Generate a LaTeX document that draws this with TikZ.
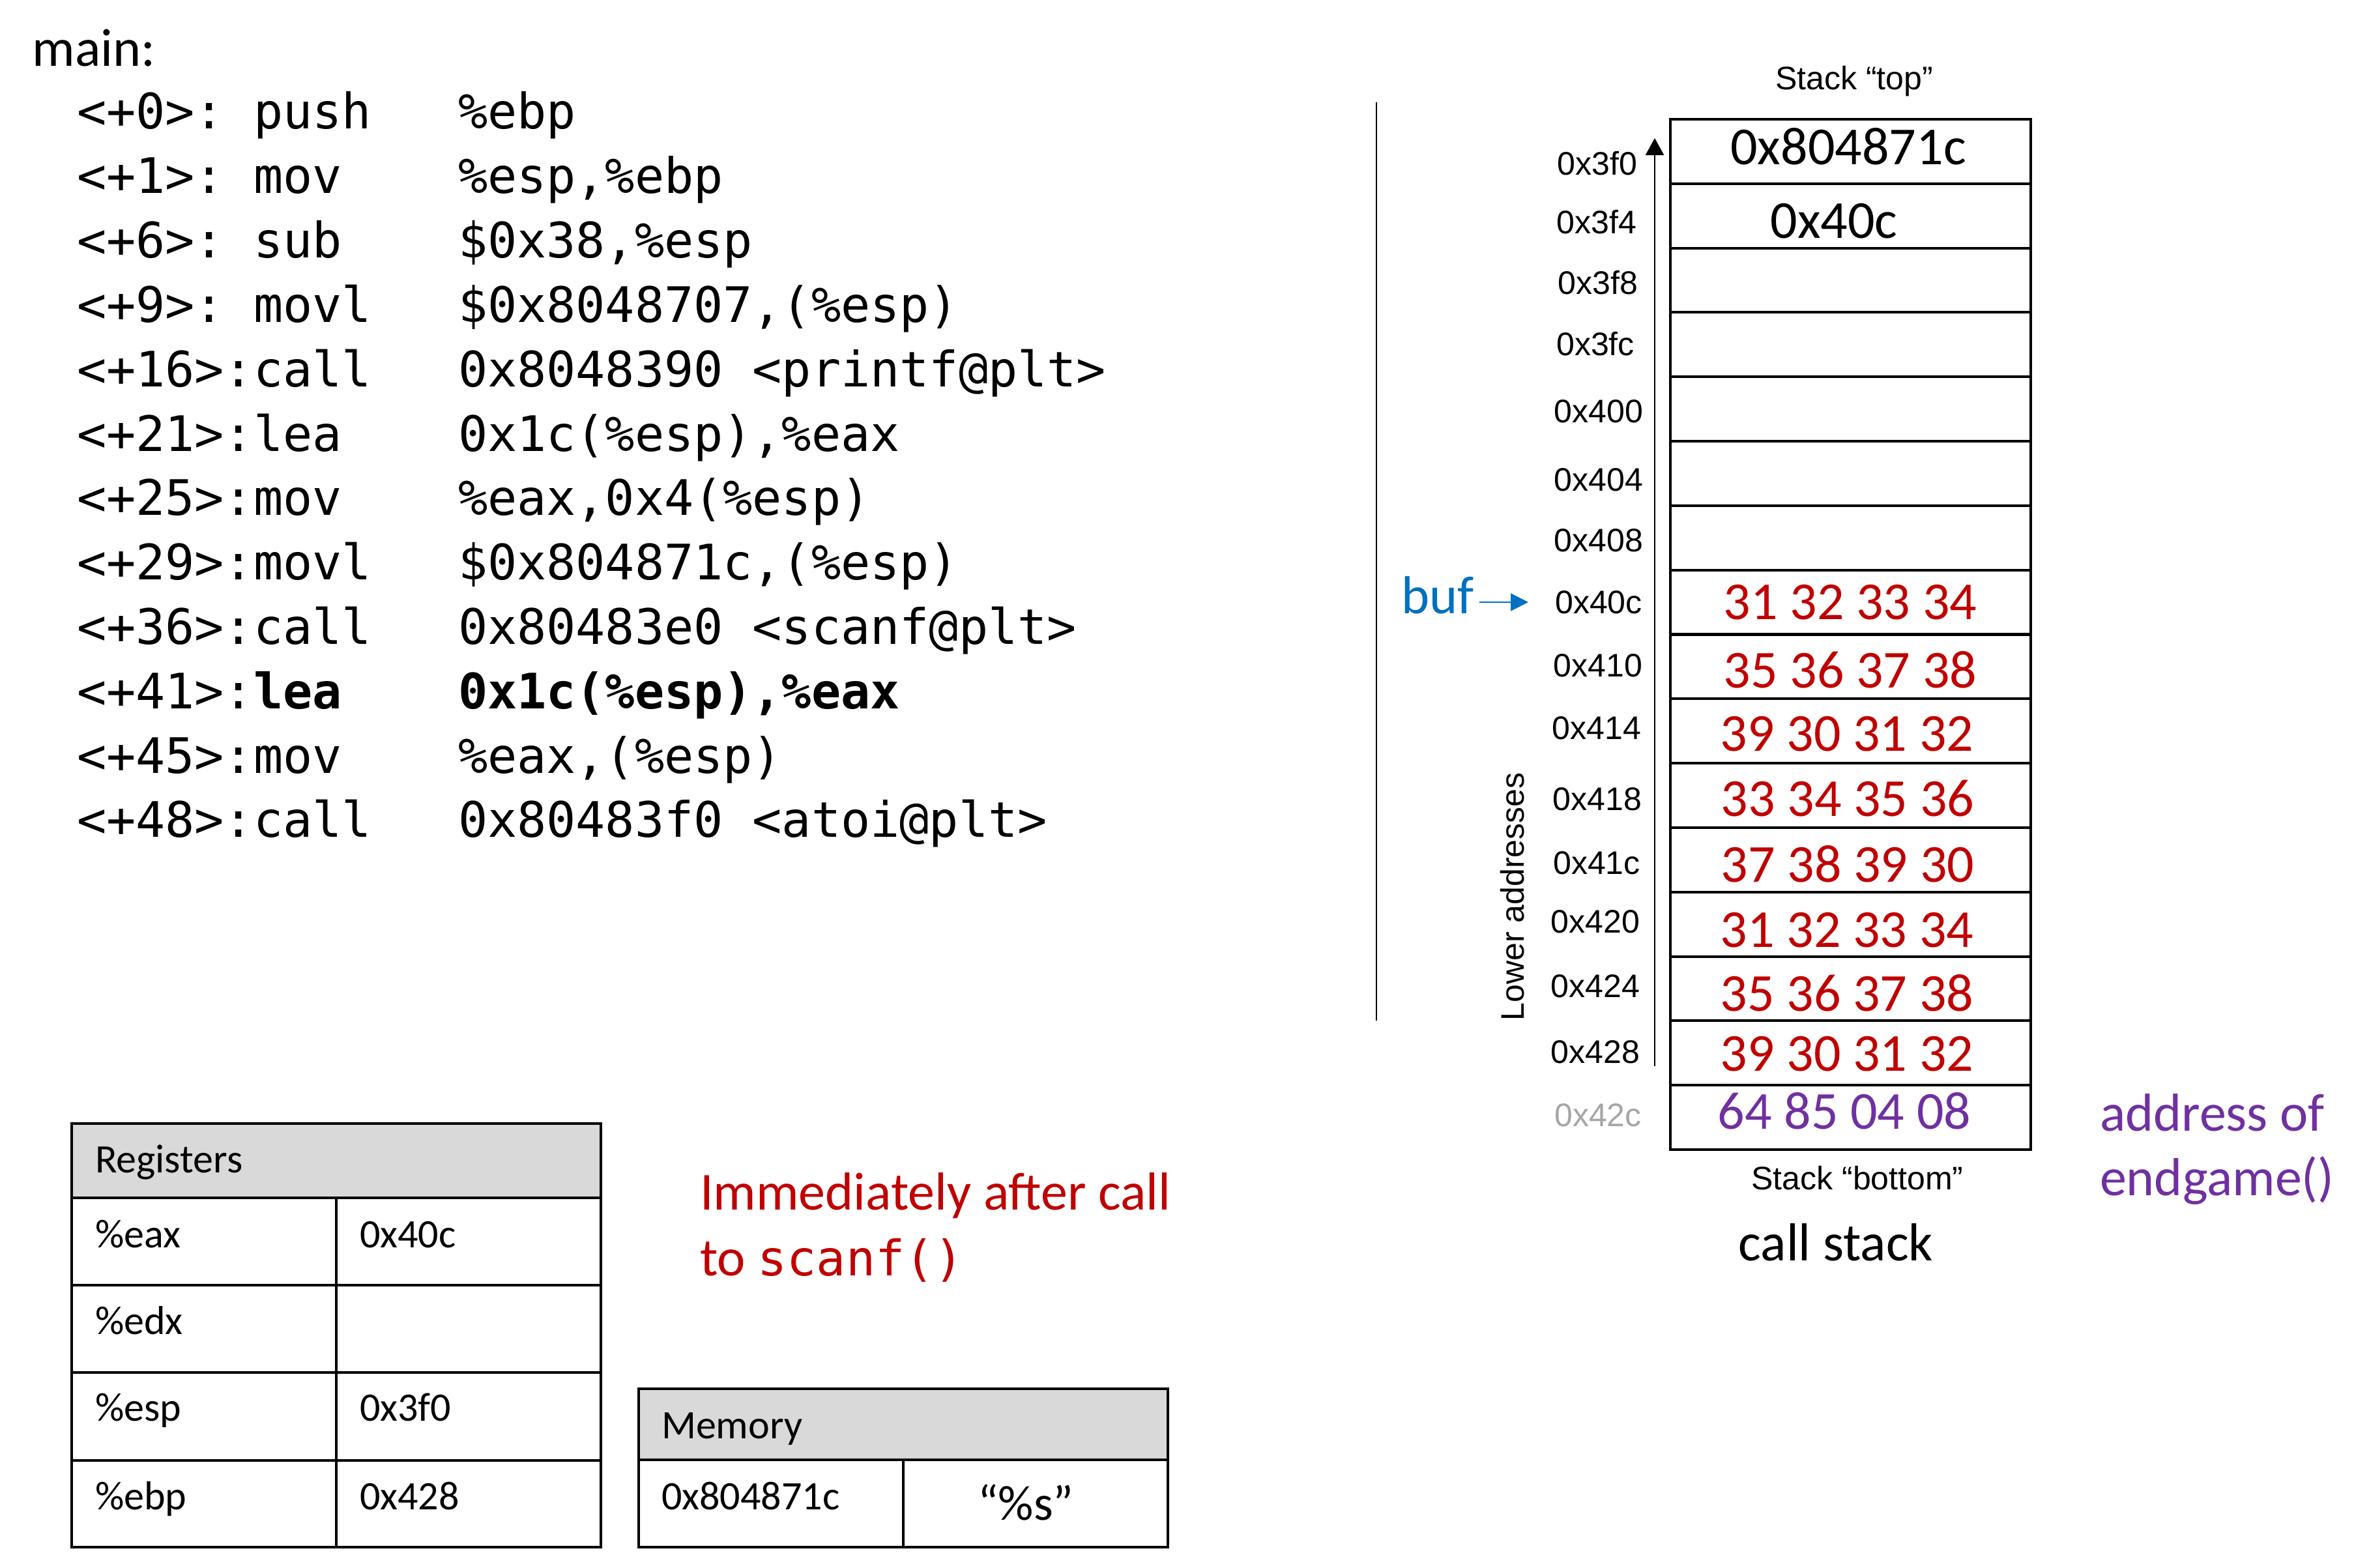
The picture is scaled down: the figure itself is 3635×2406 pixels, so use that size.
\documentclass[tikz,border=0pt]{standalone}
\usepackage{fontspec}
\setmainfont{Carlito}
\newfontfamily\arialf{Liberation Sans}
\newfontfamily\monof{DejaVu Sans Mono}
\usetikzlibrary{arrows.meta}
\definecolor{pptred}{HTML}{C00000}
\definecolor{pptpurple}{HTML}{7030A0}
\definecolor{pptblue}{HTML}{0070C0}
\definecolor{pptgray}{HTML}{A6A6A6}
\definecolor{hdrgray}{HTML}{D9D9D9}
\frenchspacing
\begin{document}
\begin{tikzpicture}[x=0.01cm,y=-0.01cm,
  every node/.style={inner sep=0pt,outer sep=0pt},
  codetxt/.style={anchor=base west,font=\monof\frenchspacing\fontsize{21.34}{25}\selectfont},
  caltxt/.style={font=\fontsize{23.33}{28}\selectfont},
  addrtxt/.style={anchor=base,font=\arialf\fontsize{14.23}{17}\selectfont},
  tabtxt/.style={anchor=base west,font=\fontsize{17.64}{21}\selectfont},
  stktxt/.style={anchor=base,font=\fontsize{23.33}{28}\selectfont},
  tabline/.style={line width=1.2pt},
  stkline/.style={line width=1.15pt},
  thinline/.style={line width=0.6pt}]
\useasboundingbox (0,0) rectangle (3635,2406);

% ---------- code ----------
\node[caltxt,anchor=base west] (main) at (50,102) {main:};
\node[codetxt] (l1) at (118,198) {<+0>: push};
\node[codetxt] (o1) at (703,198) {\%ebp};
\node[codetxt] (l2) at (118,296.8) {<+1>: mov};
\node[codetxt] (o2) at (703,296.8) {\%esp,\%ebp};
\node[codetxt] (l3) at (118,395.6) {<+6>: sub};
\node[codetxt] (o3) at (703,395.6) {\$0x38,\%esp};
\node[codetxt] (l4) at (118,494.4) {<+9>: movl};
\node[codetxt] (o4) at (703,494.4) {\$0x8048707,(\%esp)};
\node[codetxt] (l5) at (118,593.2) {<+16>:call};
\node[codetxt] (o5) at (703,593.2) {0x8048390 <printf@plt>};
\node[codetxt] (l6) at (118,692) {<+21>:lea};
\node[codetxt] (o6) at (703,692) {0x1c(\%esp),\%eax};
\node[codetxt] (l7) at (118,790.8) {<+25>:mov};
\node[codetxt] (o7) at (703,790.8) {\%eax,0x4(\%esp)};
\node[codetxt] (l8) at (118,889.6) {<+29>:movl};
\node[codetxt] (o8) at (703,889.6) {\$0x804871c,(\%esp)};
\node[codetxt] (l9) at (118,988.4) {<+36>:call};
\node[codetxt] (o9) at (703,988.4) {0x80483e0 <scanf@plt>};
\node[codetxt] (l10) at (118,1087.2) {<+41>:\textbf{lea}};
\node[codetxt] (o10) at (703,1087.2) {\textbf{0x1c(\%esp),\%eax}};
\node[codetxt] (l11) at (118,1186) {<+45>:mov};
\node[codetxt] (o11) at (703,1186) {\%eax,(\%esp)};
\node[codetxt] (l12) at (118,1284.8) {<+48>:call};
\node[codetxt] (o12) at (703,1284.8) {0x80483f0 <atoi@plt>};

% ---------- divider ----------
\coordinate (dtop) at (2112,157);
\coordinate (dbot) at (2112,1566);
\draw[thinline] (dtop) -- (dbot);

% ---------- registers table ----------
\fill[hdrgray] (110,1724) rectangle (922,1838);
\draw[tabline] (110,1724) rectangle (922,2374);
\draw[tabline] (110,1838) -- (922,1838);
\draw[tabline] (110,1972) -- (922,1972);
\draw[tabline] (110,2106) -- (922,2106);
\draw[tabline] (110,2241) -- (922,2241);
\draw[tabline] (516,1838) -- (516,2374);
\node[tabtxt] (reghdr) at (146,1799) {Registers};
\node[tabtxt] (reax) at (146,1914) {\%eax};
\node[tabtxt] (veax) at (552,1914) {0x40c};
\node[tabtxt] (redx) at (146,2047) {\%edx};
\node[tabtxt] (resp) at (146,2180) {\%esp};
\node[tabtxt] (vesp) at (552,2180) {0x3f0};
\node[tabtxt] (rebp) at (146,2316) {\%ebp};
\node[tabtxt] (vebp) at (552,2316) {0x428};

% ---------- memory table ----------
\fill[hdrgray] (980,2131) rectangle (1792,2240);
\draw[tabline] (980,2131) rectangle (1792,2374);
\draw[tabline] (980,2240) -- (1792,2240);
\draw[tabline] (1386,2240) -- (1386,2374);
\node[tabtxt] (memhdr) at (1015,2207) {Memory};
\node[tabtxt] (maddr) at (1015,2316) {0x804871c};
\node[anchor=base,font=\fontsize{21.6}{26}\selectfont] (mval) at (1574,2332) {“\%s”};

% ---------- red note ----------
\node[caltxt,anchor=base west,text=pptred] (note1) at (1074,1856) {Immediately after call};
\node[caltxt,anchor=base west,text=pptred] (note2) at (1074,1957) {to \monof\fontsize{21.34}{25}\selectfont scanf()};

% ---------- stack ----------
\node[addrtxt] (stop) at (2845,138) {Stack “top”};
\foreach \k in {1,...,15} {
  \draw[stkline] (2563,{183+98.81*\k}) -- (3116,{183+98.81*\k});
}
\draw[stkline] (2563,183) rectangle (3116,1764);

\node[stktxt] (s0) at (2836,253) {0x804871c};
\node[stktxt] (s1) at (2814,366) {0x40c};
\node[stktxt,text=pptred] (s7) at (2839,950) {31 32 33 34};
\node[stktxt,text=pptred] (s8) at (2839,1055) {35 36 37 38};
\node[stktxt,text=pptred] (s9) at (2834,1152) {39 30 31 32};
\node[stktxt,text=pptred] (s10) at (2835,1252) {33 34 35 36};
\node[stktxt,text=pptred] (s11) at (2835,1353) {37 38 39 30};
\node[stktxt,text=pptred] (s12) at (2834,1453) {31 32 33 34};
\node[stktxt,text=pptred] (s13) at (2834,1551) {35 36 37 38};
\node[stktxt,text=pptred] (s14) at (2834,1643) {39 30 31 32};
\node[stktxt,text=pptpurple] (s15) at (2830,1732) {64 85 04 08};

\node[addrtxt] (a0) at (2451,269) {0x3f0};
\node[addrtxt] (a1) at (2450,359) {0x3f4};
\node[addrtxt] (a2) at (2452,452) {0x3f8};
\node[addrtxt] (a3) at (2448,545) {0x3fc};
\node[addrtxt] (a4) at (2453,648) {0x400};
\node[addrtxt] (a5) at (2453,753) {0x404};
\node[addrtxt] (a6) at (2453,846) {0x408};
\node[addrtxt] (a7) at (2453,941) {0x40c};
\node[addrtxt] (a8) at (2452,1038) {0x410};
\node[addrtxt] (a9) at (2450,1134) {0x414};
\node[addrtxt] (a10) at (2451,1243) {0x418};
\node[addrtxt] (a11) at (2450,1341) {0x41c};
\node[addrtxt] (a12) at (2448,1431) {0x420};
\node[addrtxt] (a13) at (2448,1530) {0x424};
\node[addrtxt] (a14) at (2448,1631) {0x428};
\node[addrtxt,text=pptgray] (a15) at (2452,1728) {0x42c};

\coordinate (upbot) at (2539,1636);
\coordinate (uptop) at (2539,212);
\draw[thinline,-{Triangle[length=0.26cm,width=0.28cm]}] (upbot) -- (uptop);

\node[anchor=base,rotate=90,font=\arialf\fontsize{14.23}{17}\selectfont] (lower) at (2338,1376) {Lower addresses};

\node[caltxt,anchor=base west,text=pptblue] (buf) at (2150,941) {buf};
\coordinate (bufend) at (2345,924);
\draw[pptblue,thinline,-{Triangle[length=0.27cm,width=0.27cm]}] (buf.east |- bufend) ++(9,0) -- (bufend);

\node[addrtxt] (sbot) at (2850,1825) {Stack “bottom”};
\node[caltxt,anchor=base] (cstack) at (2817,1934) {call stack};

\node[caltxt,anchor=base west,text=pptpurple,align=left] (endg1) at (3222,1735) {address of};
\node[caltxt,anchor=base west,text=pptpurple] (endg2) at (3222,1834) {endgame()};
\end{tikzpicture}
\end{document}
